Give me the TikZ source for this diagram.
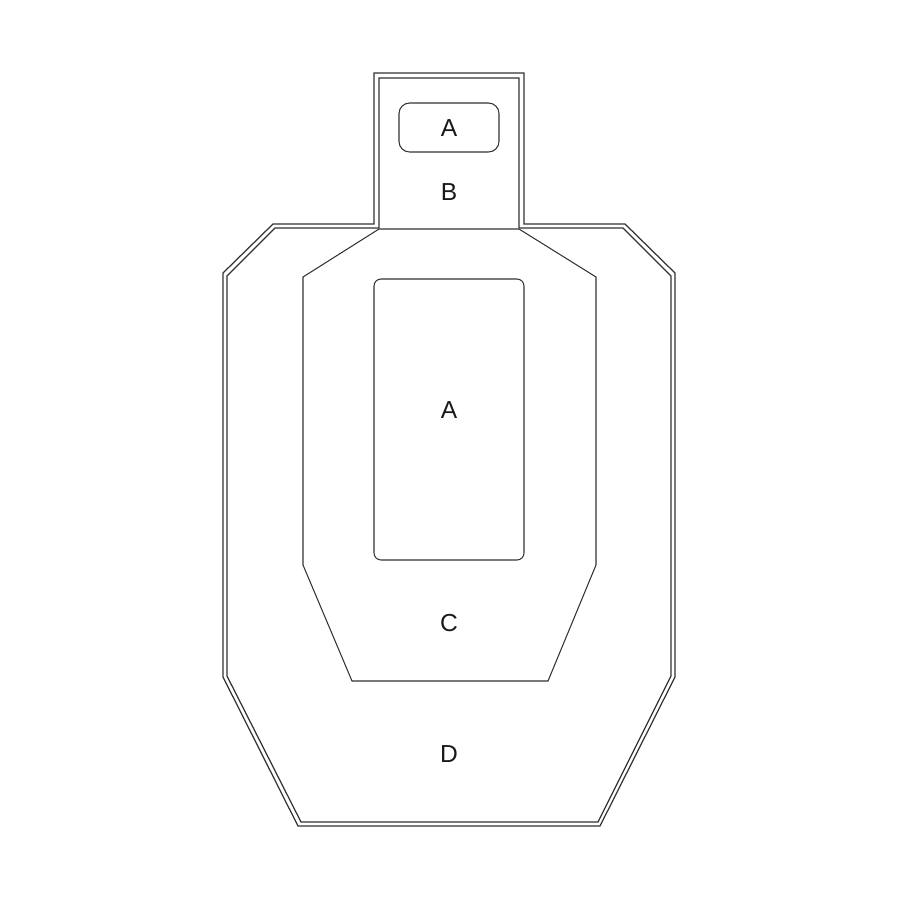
\documentclass[tikz,border=0pt]{standalone}
\usepackage{fontspec}
\setmainfont{Liberation Sans}
\usetikzlibrary{positioning}

\begin{document}
\begin{tikzpicture}[
  x=0.2mm, y=-0.2mm,
  every node/.style={font=\fontsize{14}{16}\selectfont, text=black!90},
  edge/.style={draw=black!80, line width=0.7pt, line join=miter},
  zone/.style={draw=black!80, line width=0.6pt},
  lbl/.style={inner sep=0pt}
]
\useasboundingbox (0,0) rectangle (900,900);

% Outer outline (double line)
\draw[edge] (374,73) -- (524,73) -- (524,224) -- (625,224) -- (675,273)
  -- (675,677) -- (600,826) -- (298,826) -- (223,677) -- (223,273)
  -- (273,224) -- (374,224) -- cycle;
\draw[edge] (379,78) -- (519,78) -- (519,228) -- (623,228) -- (671,276)
  -- (671,676) -- (598,822) -- (301,822) -- (227,676) -- (227,276)
  -- (275,228) -- (379,228) -- cycle;

% C zone
\draw[zone] (379,229) -- (303,277) -- (303,565) -- (352,681) -- (548,681)
  -- (596,565) -- (596,277) -- (519,229) -- cycle;

% A zones
\draw[zone, rounded corners=6pt] (399,103) rectangle (499,152);
\draw[zone, rounded corners=4pt] (374,279) rectangle (524,560);

% Labels
\node[lbl] (headA) at (449,128) {A};
\node[lbl] (headB) at (449,192) {B};
\node[lbl] (bodyA) at (449,410) {A};
\node[lbl] (bodyC) at (449,623) {C};
\node[lbl] (bodyD) at (449,754) {D};

\end{tikzpicture}
\end{document}
